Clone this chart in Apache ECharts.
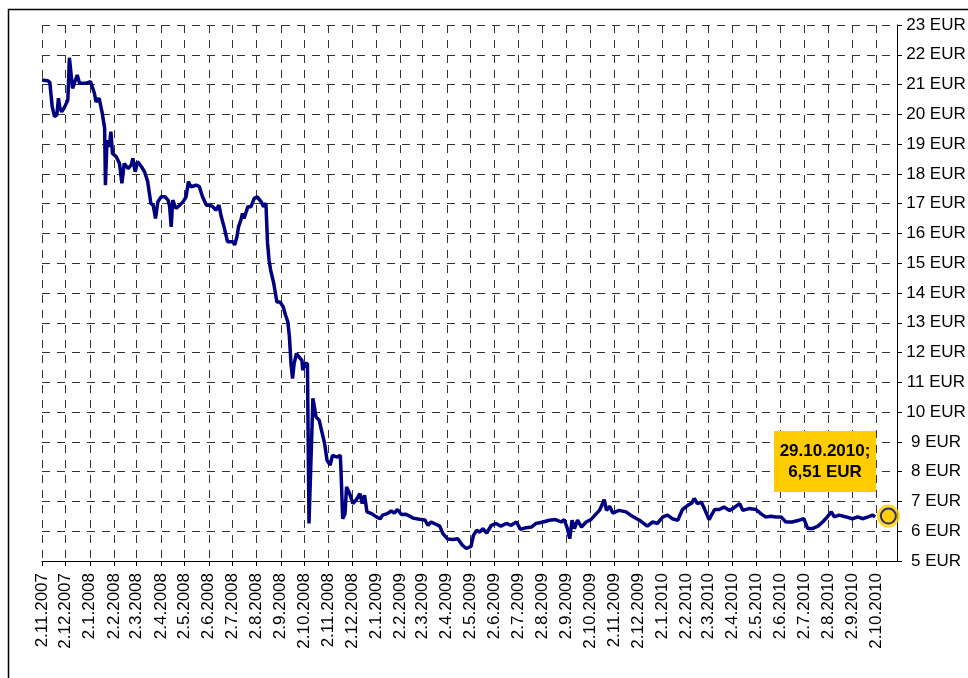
<!DOCTYPE html>
<html>
<head>
<meta charset="utf-8">
<title>Kursverlauf</title>
<script src="https://cdn.jsdelivr.net/npm/echarts@6/dist/echarts.min.js"></script>
<style>
  html, body { margin: 0; padding: 0; background: #fff; }
  #chart { width: 968px; height: 678px; }
</style>
</head>
<body>
<div id="chart"></div>
<script>
// price history (EUR)
const dates = [
  '2007-11-02', '2007-11-09', '2007-11-12', '2007-11-15', '2007-11-18', '2007-11-21', '2007-11-23', '2007-11-25',
  '2007-11-27', '2007-11-30', '2007-12-05', '2007-12-07', '2007-12-09', '2007-12-11', '2007-12-14', '2007-12-17',
  '2007-12-20', '2007-12-28', '2008-01-03', '2008-01-08', '2008-01-10', '2008-01-14', '2008-01-18', '2008-01-21',
  '2008-01-22', '2008-01-24', '2008-01-27', '2008-01-29', '2008-01-31', '2008-02-05', '2008-02-09', '2008-02-12',
  '2008-02-15', '2008-02-20', '2008-02-24', '2008-02-26', '2008-02-29', '2008-03-03', '2008-03-08', '2008-03-12',
  '2008-03-16', '2008-03-20', '2008-03-23', '2008-03-26', '2008-03-29', '2008-04-02', '2008-04-07', '2008-04-11',
  '2008-04-13', '2008-04-15', '2008-04-17', '2008-04-21', '2008-04-24', '2008-04-30', '2008-05-04', '2008-05-07',
  '2008-05-10', '2008-05-17', '2008-05-21', '2008-05-25', '2008-05-30', '2008-06-03', '2008-06-07', '2008-06-11',
  '2008-06-15', '2008-06-18', '2008-06-22', '2008-06-26', '2008-07-03', '2008-07-05', '2008-07-08', '2008-07-10',
  '2008-07-13', '2008-07-15', '2008-07-17', '2008-07-22', '2008-07-26', '2008-07-30', '2008-08-03', '2008-08-08',
  '2008-08-11', '2008-08-14', '2008-08-16', '2008-08-18', '2008-08-20', '2008-08-24', '2008-08-28', '2008-09-01',
  '2008-09-05', '2008-09-08', '2008-09-11', '2008-09-13', '2008-09-15', '2008-09-17', '2008-09-19', '2008-09-22',
  '2008-09-25', '2008-09-29', '2008-09-30', '2008-10-03', '2008-10-06', '2008-10-08', '2008-10-10', '2008-10-13',
  '2008-10-17', '2008-10-21', '2008-10-24', '2008-10-28', '2008-10-31', '2008-11-04', '2008-11-07', '2008-11-13',
  '2008-11-17', '2008-11-18', '2008-11-20', '2008-11-23', '2008-11-25', '2008-11-29', '2008-12-03', '2008-12-07',
  '2008-12-12', '2008-12-15', '2008-12-18', '2008-12-21', '2008-12-27', '2009-01-02', '2009-01-07', '2009-01-10',
  '2009-01-16', '2009-01-21', '2009-01-25', '2009-01-29', '2009-02-03', '2009-02-09', '2009-02-18', '2009-02-26',
  '2009-03-05', '2009-03-09', '2009-03-13', '2009-03-17', '2009-03-24', '2009-03-28', '2009-04-03', '2009-04-10',
  '2009-04-16', '2009-04-22', '2009-04-27', '2009-05-03', '2009-05-06', '2009-05-10', '2009-05-14', '2009-05-18',
  '2009-05-23', '2009-05-29', '2009-06-04', '2009-06-10', '2009-06-17', '2009-06-23', '2009-06-30', '2009-07-05',
  '2009-07-12', '2009-07-19', '2009-07-25', '2009-08-03', '2009-08-11', '2009-08-19', '2009-08-26', '2009-08-30',
  '2009-09-03', '2009-09-06', '2009-09-09', '2009-09-12', '2009-09-16', '2009-09-21', '2009-09-27', '2009-10-03',
  '2009-10-10', '2009-10-14', '2009-10-18', '2009-10-20', '2009-10-23', '2009-10-27', '2009-10-31', '2009-11-08',
  '2009-11-17', '2009-11-25', '2009-12-04', '2009-12-14', '2009-12-21', '2009-12-27', '2010-01-03', '2010-01-09',
  '2010-01-15', '2010-01-22', '2010-01-28', '2010-02-04', '2010-02-09', '2010-02-12', '2010-02-16', '2010-02-21',
  '2010-02-25', '2010-03-03', '2010-03-10', '2010-03-16', '2010-03-22', '2010-03-29', '2010-04-04', '2010-04-11',
  '2010-04-15', '2010-04-23', '2010-05-02', '2010-05-08', '2010-05-14', '2010-05-21', '2010-05-27', '2010-06-03',
  '2010-06-09', '2010-06-17', '2010-06-26', '2010-07-02', '2010-07-07', '2010-07-13', '2010-07-20', '2010-07-26',
  '2010-08-01', '2010-08-06', '2010-08-10', '2010-08-16', '2010-08-25', '2010-09-02', '2010-09-09', '2010-09-15',
  '2010-09-22', '2010-09-28', '2010-10-01'
];
const prices = [
  21.15, 21.13, 21.07, 20.26, 19.92, 19.98, 20.54, 20.20,
  20.09, 20.20, 20.48, 21.90, 21.38, 20.87, 21.10, 21.32,
  21.04, 21.04, 21.10, 20.70, 20.42, 20.54, 20.03, 19.53,
  17.62, 19.13, 18.91, 19.42, 18.69, 18.57, 18.35, 17.68,
  18.35, 18.18, 18.30, 18.52, 18.07, 18.41, 18.24, 18.07,
  17.74, 17.01, 16.95, 16.50, 17.06, 17.23, 17.23, 17.12,
  16.90, 16.22, 17.12, 16.84, 16.90, 17.06, 17.23, 17.74,
  17.57, 17.62, 17.57, 17.23, 16.95, 16.95, 16.90, 16.78,
  16.95, 16.56, 16.17, 15.72, 15.72, 15.61, 15.89, 16.22,
  16.45, 16.67, 16.50, 16.90, 16.90, 17.18, 17.23, 17.06,
  16.90, 17.01, 15.70, 15.10, 14.77, 14.32, 13.70, 13.70,
  13.54, 13.26, 13.03, 12.53, 11.63, 11.13, 11.63, 11.97,
  11.86, 11.74, 11.41, 11.63, 11.63, 6.26, 7.94, 10.46,
  9.84, 9.73, 9.39, 8.94, 8.38, 8.22, 8.55, 8.49,
  8.55, 7.94, 6.42, 6.59, 7.49, 7.26, 6.93, 7.04,
  7.26, 6.93, 7.21, 6.65, 6.59, 6.48, 6.42, 6.54,
  6.59, 6.68, 6.61, 6.73, 6.56, 6.57, 6.44, 6.40,
  6.38, 6.20, 6.31, 6.26, 6.17, 5.92, 5.74, 5.72,
  5.75, 5.53, 5.42, 5.49, 5.86, 6.03, 5.97, 6.09,
  5.94, 6.20, 6.26, 6.17, 6.26, 6.20, 6.31, 6.06,
  6.12, 6.14, 6.26, 6.31, 6.37, 6.39, 6.31, 6.39,
  6.09, 5.75, 6.37, 6.09, 6.37, 6.14, 6.31, 6.39,
  6.59, 6.70, 6.93, 7.06, 6.70, 6.84, 6.61, 6.70,
  6.65, 6.50, 6.37, 6.17, 6.31, 6.26, 6.48, 6.54,
  6.42, 6.37, 6.73, 6.87, 6.95, 7.10, 6.93, 6.98,
  6.76, 6.39, 6.73, 6.73, 6.81, 6.70, 6.79, 6.93,
  6.70, 6.76, 6.73, 6.59, 6.48, 6.50, 6.48, 6.48,
  6.31, 6.31, 6.37, 6.42, 6.09, 6.09, 6.17, 6.31,
  6.48, 6.65, 6.48, 6.54, 6.48, 6.42, 6.48, 6.42,
  6.48, 6.54, 6.48
];

// monthly ticks on the 2nd of each month
const tickDates = [
  '2007-11-02', '2007-12-02', '2008-01-02', '2008-02-02', '2008-03-02', '2008-04-02',
  '2008-05-02', '2008-06-02', '2008-07-02', '2008-08-02', '2008-09-02', '2008-10-02',
  '2008-11-02', '2008-12-02', '2009-01-02', '2009-02-02', '2009-03-02', '2009-04-02',
  '2009-05-02', '2009-06-02', '2009-07-02', '2009-08-02', '2009-09-02', '2009-10-02',
  '2009-11-02', '2009-12-02', '2010-01-02', '2010-02-02', '2010-03-02', '2010-04-02',
  '2010-05-02', '2010-06-02', '2010-07-02', '2010-08-02', '2010-09-02', '2010-10-02'
];
const xStart = '2007-11-02';
const xEnd = '2010-10-29';

// highlighted last quote
const lastPoint = ['2010-10-18', 6.51];
const lastDateLabel = '29.10.2010';

const FONT = 'Liberation Sans, Arial, sans-serif';
const NAVY = '#000080';
const GOLD = '#FFCC00';
const GRID_DASH = { type: [8, 7], color: '#333', width: 1 };

const toTime = d => echarts.number.parseDate(d).getTime();
const tickValues = tickDates.map(toTime);

function fmtDate(v) {
  const d = new Date(v);
  return d.getDate() + '.' + (d.getMonth() + 1) + '.' + d.getFullYear();
}

const chart = echarts.init(document.getElementById('chart'));
const markerData = [[toTime(lastPoint[0]), lastPoint[1]]];

chart.setOption({
  animation: false,
  backgroundColor: '#fff',
  textStyle: { fontFamily: FONT },
  grid: { left: 42, right: 71, top: 25, bottom: 117, outerBoundsMode: 'none', containLabel: false },
  xAxis: {
    type: 'value',
    min: toTime(xStart),
    max: toTime(xEnd),
    axisLine: { show: true, onZero: false, lineStyle: { color: '#000', width: 1 } },
    axisTick: { show: true, length: 5, customValues: tickValues, lineStyle: { color: '#000' } },
    axisLabel: {
      customValues: tickValues,
      rotate: 90,
      margin: 12,
      color: '#000',
      fontSize: 17,
      fontFamily: FONT,
      formatter: fmtDate
    },
    splitLine: { show: true, lineStyle: GRID_DASH }
  },
  yAxis: {
    type: 'value',
    position: 'right',
    min: 5,
    max: 23,
    interval: 1,
    axisLine: { show: true, lineStyle: { color: '#000', width: 1 } },
    axisTick: { show: true, length: 5, lineStyle: { color: '#000' } },
    axisLabel: {
      color: '#000',
      fontSize: 17,
      fontFamily: FONT,
      align: 'center',
      margin: 39,
      formatter: '{value} EUR'
    },
    splitLine: { show: true, lineStyle: GRID_DASH }
  },
  series: [
    {
      type: 'line',
      data: dates.map((d, i) => [toTime(d), prices[i]]),
      showSymbol: false,
      lineStyle: { color: NAVY, width: 3.5 },
      z: 3
    },
    {
      type: 'scatter',
      data: markerData,
      symbolSize: 23,
      itemStyle: { color: GOLD },
      z: 4
    },
    {
      type: 'scatter',
      data: markerData,
      symbolSize: 15,
      itemStyle: { color: GOLD, borderColor: NAVY, borderWidth: 2 },
      z: 5
    }
  ],
  graphic: [
    {
      type: 'rect',
      shape: { x: 8.5, y: 9.5, width: 1000, height: 1000 },
      style: { fill: 'none', stroke: '#000', lineWidth: 1.5 },
      silent: true
    },
    {
      type: 'rect',
      shape: { x: 774, y: 431, width: 102, height: 61 },
      style: { fill: GOLD },
      z: 10
    },
    {
      type: 'text',
      x: 825,
      y: 461.5,
      z: 11,
      style: {
        text: lastDateLabel + ';\n' + lastPoint[1].toFixed(2).replace('.', ',') + ' EUR',
        font: 'bold 17px ' + FONT,
        fill: '#000',
        align: 'center',
        verticalAlign: 'middle',
        lineHeight: 21
      }
    }
  ]
});
</script>
</body>
</html>
